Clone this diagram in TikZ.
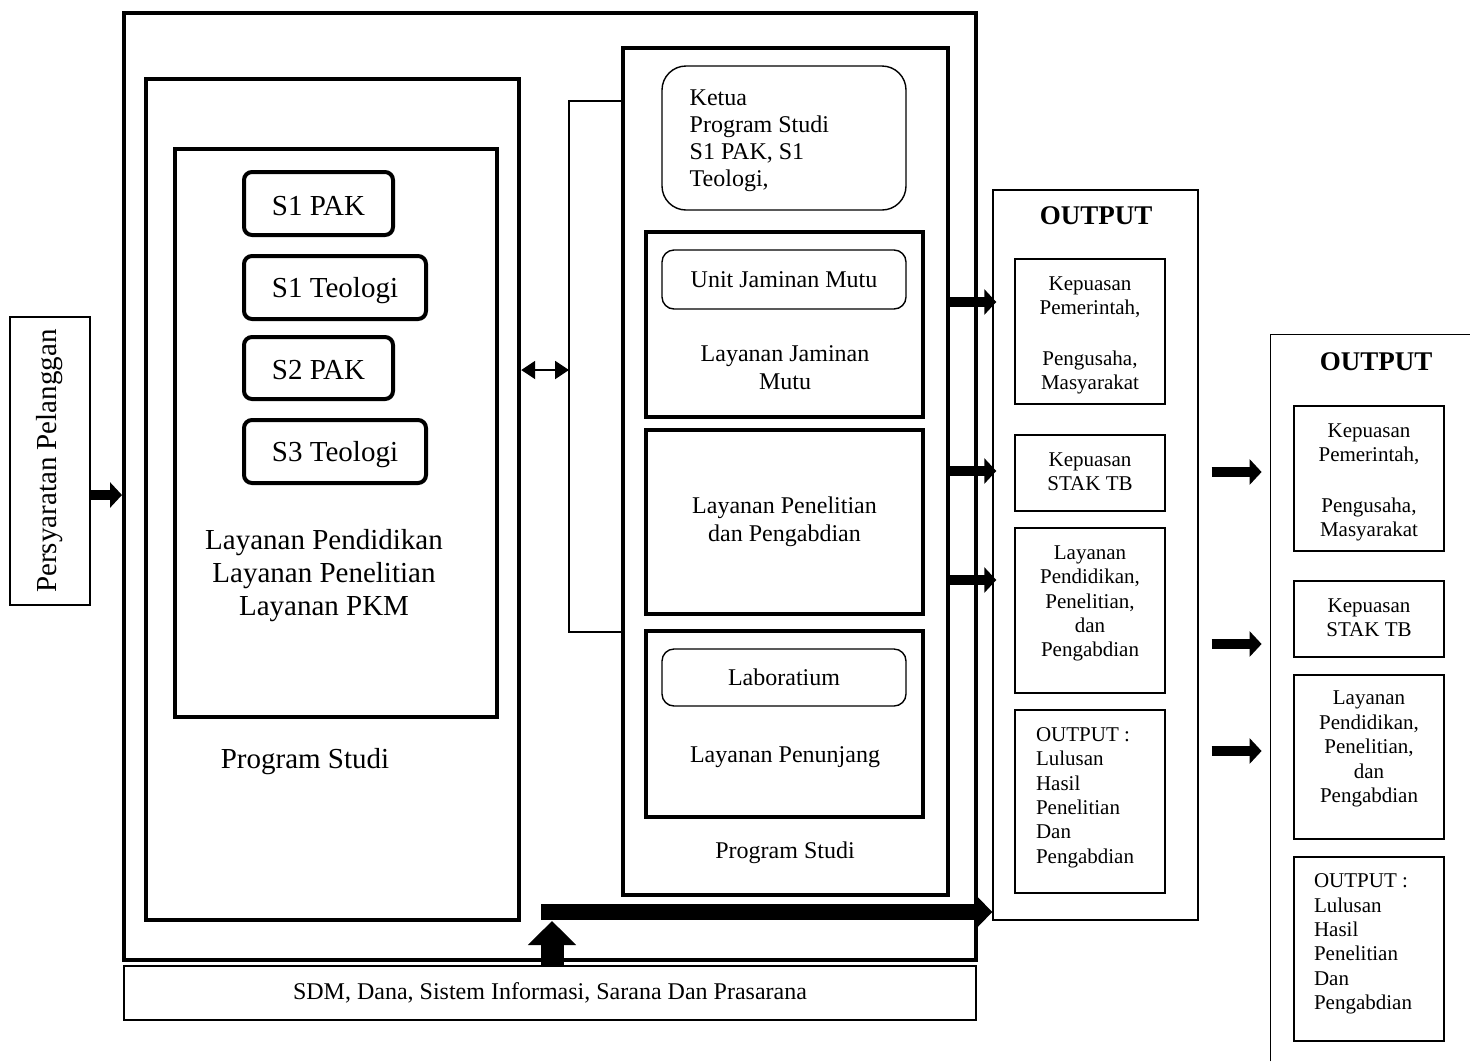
\documentclass[tikz,border=0pt]{standalone}
\usepackage{fontspec}
\setmainfont{Liberation Serif}
\usetikzlibrary{arrows.meta,fit}

\tikzset{
  thickbox/.style={draw, line width=2.2pt, inner sep=0pt},
  thinbox/.style={draw, line width=0.7pt, inner sep=0pt},
  prodibox/.style={draw, line width=2pt, rounded corners=4pt, inner sep=0pt},
  unitbox/.style={draw, line width=0.7pt, rounded corners=6pt, inner sep=0pt},
  blockarrow/.style={line width=5pt, -{Triangle[length=6pt,width=12.5pt]}},
  smalltext/.style={font=\fontsize{10.5}{12.2}\selectfont, align=center},
  midtext/.style={font=\fontsize{12}{14}\selectfont, align=center},
  bigtext/.style={font=\fontsize{14.5}{16.5}\selectfont, align=center},
  titletext/.style={font=\fontsize{13.5}{16}\selectfont\bfseries}
}

\begin{document}
\begin{tikzpicture}[x=0.5pt, y=-0.5pt]
\useasboundingbox (0,0) rectangle (1470,1061);

% Persyaratan pelanggan
\node[thinbox, fit={(10,317) (90,605)}] (req) {};
\node[bigtext, rotate=90] (reqTxt) at (req.center) {Persyaratan Pelanggan};

% Outer frame and resources
\node[thickbox, line width=2pt, fit={(124,13) (976,960)}] (frame) {};
\node[thinbox, fit={(124,966) (976,1020)}] (res) {};
\node[font=\fontsize{12}{14}\selectfont] (resTxt) at (res.center) {SDM, Dana, Sistem Informasi, Sarana Dan Prasarana};

% Program Studi (left)
\node[thickbox, fit={(146,79) (519,920)}] (progL) {};
\node[thickbox, fit={(175,149) (497,717)}] (layL) {};
\node[prodibox, fit={(244,172) (393,235)}] (s1pak) {};
\node[prodibox, fit={(244,256) (426,319)}] (s1teo) {};
\node[prodibox, fit={(244,337) (393,399)}] (s2pak) {};
\node[prodibox, fit={(244,420) (426,483)}] (s3teo) {};
\node[bigtext] at ([yshift=-1.5pt]s1pak.center) {S1 PAK};
\node[bigtext] at ([yshift=-1.5pt]s1teo.center) {S1 Teologi};
\node[bigtext] at ([yshift=-1pt]s2pak.center) {S2 PAK};
\node[bigtext] at ([yshift=-1.5pt]s3teo.center) {S3 Teologi};
\node[bigtext] (layTxt) at (324,576) {Layanan Pendidikan\\Layanan Penelitian\\Layanan PKM};
\node[bigtext] (progLTxt) at (305,762) {Program Studi};

% Program Studi (right)
\node[thickbox, fit={(623,48) (948,895)}] (progR) {};
\node[draw, line width=0.7pt, rounded corners=12pt, inner sep=0pt, fit={(662,66) (906,210)}] (ketua) {};
\node[font=\fontsize{12}{13.5}\selectfont, align=left, anchor=west, inner sep=0pt] (ketuaTxt) at ([xshift=14pt, yshift=-1.5pt]ketua.west) {Ketua\\Program Studi\\S1 PAK, S1\\Teologi,};
\node[thickbox, fit={(646,232) (923,417)}] (mutu) {};
\node[unitbox, fit={(662,250) (906,309)}] (ujm) {};
\node[midtext] at (ujm.center) {Unit Jaminan Mutu};
\node[midtext] (mutuTxt) at (785,368) {Layanan Jaminan\\Mutu};
\node[thickbox, fit={(646,430) (923,614)}] (riset) {};
\node[midtext] at (riset.center) {Layanan Penelitian\\dan Pengabdian};
\node[thickbox, fit={(646,631) (923,817)}] (tunjang) {};
\node[unitbox, fit={(662,649) (906,706)}] (lab) {};
\node[midtext] at (lab.center) {Laboratium};
\node[midtext] (tunjangTxt) at (785,757) {Layanan Penunjang};
\node[midtext] (progRTxt) at (785,853) {Program Studi};

% Bracket and link between both
\coordinate (brk) at (569,370);
\draw[line width=0.7pt] (progR.west |- 0,101) -- (569,101) -- (569,632) -- (progR.west |- 0,632);
\draw[line width=1pt, {Triangle[length=7pt,width=9pt]}-{Triangle[length=7pt,width=9pt]}] (progL.east |- brk) -- (brk);

% First output
\node[thinbox, fit={(993,190) (1198,920)}] (out1) {};
\node[titletext] (out1Txt) at (1096,216) {OUTPUT};
\node[thinbox, fit={(1015,259) (1165,404)}] (kep1) {};
\node[thinbox, fit={(1015,435) (1165,511)}] (stak1) {};
\node[thinbox, fit={(1015,528) (1165,693)}] (lay1) {};
\node[thinbox, fit={(1015,710) (1165,893)}] (lulus1) {};
\node[smalltext] at ([yshift=-2pt]kep1.center) {Kepuasan\\Pemerintah,\\[13pt]Pengusaha,\\Masyarakat};
\node[smalltext] at ([yshift=0.5pt]stak1.center) {Kepuasan\\STAK TB};
\node[smalltext] at ([yshift=3.5pt]lay1.center) {Layanan\\Pendidikan,\\Penelitian,\\dan\\Pengabdian};
\node[smalltext, align=left] at ([yshift=2pt, xshift=-2.5pt]lulus1.center) {OUTPUT :\\Lulusan\\Hasil\\Penelitian\\Dan\\Pengabdian};

% Second output
\node[inner sep=0pt, fit={(1271,335) (1470,1061)}] (out2) {};
\draw[line width=0.7pt] (out2.south west) -- (out2.north west) -- (out2.north east);
\node[titletext] (out2Txt) at (1376,362) {OUTPUT};
\node[thinbox, fit={(1294,406) (1444,551)}] (kep2) {};
\node[thinbox, fit={(1294,581) (1444,657)}] (stak2) {};
\node[thinbox, fit={(1294,675) (1444,839)}] (lay2) {};
\node[thinbox, fit={(1294,857) (1444,1041)}] (lulus2) {};
\node[smalltext] at ([yshift=-2pt]kep2.center) {Kepuasan\\Pemerintah,\\[13pt]Pengusaha,\\Masyarakat};
\node[smalltext] at ([yshift=0.5pt]stak2.center) {Kepuasan\\STAK TB};
\node[smalltext] at ([yshift=4pt]lay2.center) {Layanan\\Pendidikan,\\Penelitian,\\dan\\Pengabdian};
\node[smalltext, align=left] at ([yshift=2.5pt, xshift=-3pt]lulus2.center) {OUTPUT :\\Lulusan\\Hasil\\Penelitian\\Dan\\Pengabdian};

% Arrows
\draw[blockarrow] (req.east |- 0,495) -- (frame.west |- 0,495);
\foreach \y in {302,471,580}
  \draw[blockarrow, shorten >=-2pt] (progR.east |- 0,\y) -- (out1.west |- 0,\y);
\foreach \y in {472,644,751}
  \draw[blockarrow, shorten <=6.5pt, shorten >=4.5pt] (out1.east |- 0,\y) -- (out2.west |- 0,\y);
\coordinate (feed) at (541,912);
\draw[line width=8pt, -{Triangle[length=8pt,width=16pt]}] (feed) -- (out1.west |- feed);
\coordinate (up) at (552,921);
\draw[line width=11.5pt, -{Triangle[length=12pt,width=23.5pt]}] (res.north -| up) -- (up);

\end{tikzpicture}
\end{document}
